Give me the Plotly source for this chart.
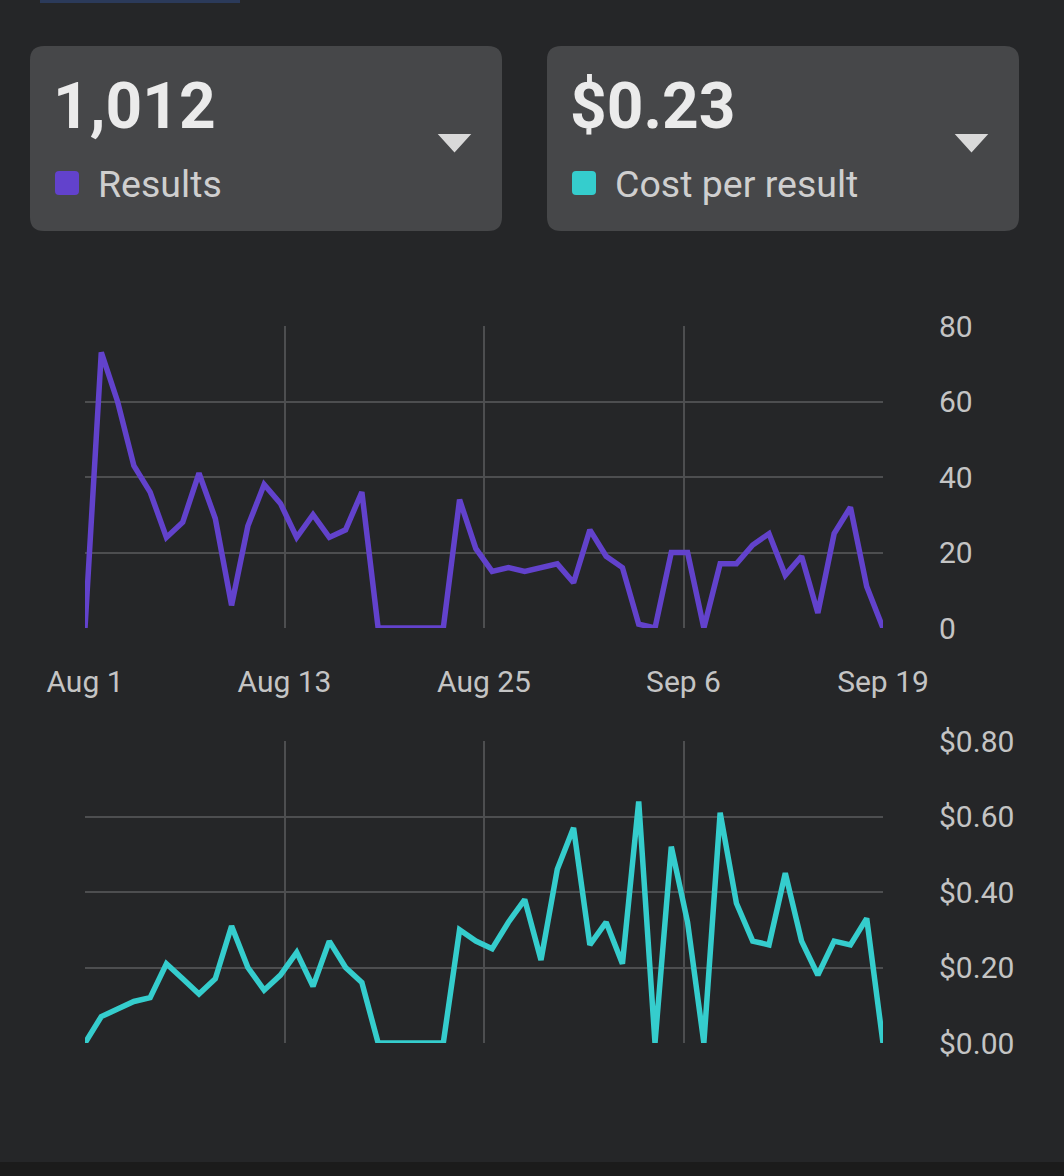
import plotly.graph_objects as go
import pandas as pd

W, H = 1064, 1176

# ---- data ----
start_date = "2023-08-01"
n_days = 50
results = [0, 73, 60, 43, 36, 24, 28, 41, 29, 6, 27, 38, 33, 24, 30, 24, 26, 36,
           0, 0, 0, 0, 0, 34, 21, 15, 16, 15, 16, 17, 12, 26, 19, 16, 1, 0,
           20, 20, 0, 17, 17, 22, 25, 14, 19, 4, 25, 32, 11, 0]
cost_per_result = [0, 0.07, 0.09, 0.11, 0.12, 0.21, 0.17, 0.13, 0.17, 0.31, 0.20, 0.14,
                   0.18, 0.24, 0.15, 0.27, 0.20, 0.16, 0, 0, 0, 0, 0, 0.30, 0.27, 0.25,
                   0.32, 0.38, 0.22, 0.46, 0.57, 0.26, 0.32, 0.21, 0.64, 0, 0.52, 0.32,
                   0, 0.61, 0.37, 0.27, 0.26, 0.45, 0.27, 0.18, 0.27, 0.26, 0.33, 0]
x_tick_vals = ["2023-08-01", "2023-08-13 06:00", "2023-08-25 12:00", "2023-09-06 18:00", "2023-09-19"]
x_tick_text = ["Aug 1", "Aug 13", "Aug 25", "Sep 6", "Sep 19"]
y1_ticks = [0, 20, 40, 60, 80]
y2_ticks = [0, 0.2, 0.4, 0.6, 0.8]
y2_tick_text = ["$0.00", "$0.20", "$0.40", "$0.60", "$0.80"]
total_results = "1,012"
avg_cost = "$0.23"

dates = pd.date_range(start_date, periods=n_days, freq="D")

BG = "#252628"
CARD = "#464749"
PURPLE = "#6242CC"
TEAL = "#35CDCD"
GRID = "#4d4e50"
TICK = "#c4c4c4"
FONT = "Roboto"


def px(x):
    return x / W


def py(y):
    return 1 - y / H


fig = go.Figure()
fig.add_trace(go.Scatter(x=dates, y=results, mode="lines", xaxis="x", yaxis="y",
                         line=dict(color=PURPLE, width=5.5), hoverinfo="skip"))
fig.add_trace(go.Scatter(x=dates, y=cost_per_result, mode="lines", xaxis="x2", yaxis="y2",
                         line=dict(color=TEAL, width=5.5), hoverinfo="skip"))

xdom = [px(85), px(883)]
xcommon = dict(type="date", range=[x_tick_vals[0], x_tick_vals[-1]], domain=xdom,
               tickmode="array", tickvals=x_tick_vals, ticktext=x_tick_text,
               showgrid=False, zeroline=False, showline=False, ticks="", automargin=False,
               minor=dict(tickvals=x_tick_vals[1:-1], showgrid=True, gridcolor=GRID, gridwidth=2),
               tickfont=dict(family=FONT, size=30, color=TICK))

ycommon = dict(side="right", showgrid=False, zeroline=False, showline=False, ticks="", automargin=False,
               tickfont=dict(family=FONT, size=30, color=TICK), ticklabelstandoff=55)

fig.update_layout(
    width=W, height=H, margin=dict(l=0, r=0, t=0, b=0, pad=0, autoexpand=False),
    paper_bgcolor=BG, plot_bgcolor=BG, showlegend=False,
    font=dict(family=FONT),
    xaxis=dict(**xcommon, anchor="y", ticklabelstandoff=33),
    xaxis2=dict(**xcommon, anchor="y2", showticklabels=False),
    yaxis=dict(**ycommon, anchor="x", domain=[py(628), py(326)], range=[0, 80],
               tickmode="array", tickvals=y1_ticks,
               minor=dict(tickvals=y1_ticks[1:-1], showgrid=True, gridcolor=GRID, gridwidth=2)),
    yaxis2=dict(**ycommon, anchor="x2", domain=[py(1043), py(741)], range=[0, 0.8],
                tickmode="array", tickvals=y2_ticks, ticktext=y2_tick_text,
                minor=dict(tickvals=y2_ticks[1:-1], showgrid=True, gridcolor=GRID, gridwidth=2)),
)


def rrect(x0, y0, x1, y1, r):
    rx, ry = r / W, r / H
    X0, X1 = px(x0), px(x1)
    Y0, Y1 = py(y0), py(y1)  # Y0 top (larger), Y1 bottom
    return (f"M {X0+rx},{Y0} L {X1-rx},{Y0} Q {X1},{Y0} {X1},{Y0-ry} "
            f"L {X1},{Y1+ry} Q {X1},{Y1} {X1-rx},{Y1} L {X0+rx},{Y1} "
            f"Q {X0},{Y1} {X0},{Y1+ry} L {X0},{Y0-ry} Q {X0},{Y0} {X0+rx},{Y0} Z")


shapes = []
# top partial element and bottom strip
shapes.append(dict(type="rect", xref="paper", yref="paper", x0=px(40), x1=px(240), y0=py(3), y1=py(0),
                   fillcolor="#2b3a5a", line=dict(width=0), layer="below"))
shapes.append(dict(type="rect", xref="paper", yref="paper", x0=0, x1=1, y0=0, y1=py(1162),
                   fillcolor="#1b1b1b", line=dict(width=0), layer="below"))
for (cx0, cx1, col) in [(30, 502, PURPLE), (547, 1019, TEAL)]:
    shapes.append(dict(type="path", xref="paper", yref="paper", path=rrect(cx0, 46, cx1, 231, 14),
                       fillcolor=CARD, line=dict(width=0), layer="below"))
    # legend swatch
    sx = cx0 + 25
    shapes.append(dict(type="path", xref="paper", yref="paper", path=rrect(sx, 171, sx + 24, 195, 4),
                       fillcolor=col, line=dict(width=0), layer="above"))
    # dropdown triangle
    tx0, tx1 = cx1 - 62, cx1 - 33
    tm = (tx0 + tx1) / 2
    shapes.append(dict(type="path", xref="paper", yref="paper",
                       path=f"M {px(tx0)},{py(135)} L {px(tx1)},{py(135)} L {px(tm)},{py(151)} Z",
                       fillcolor="#d9d9d9", line=dict(color="#d9d9d9", width=2), layer="above"))

annotations = []
for (cx0, big, label) in [(30, total_results, "Results"), (547, avg_cost, "Cost per result")]:
    annotations.append(dict(xref="paper", yref="paper", x=px(cx0 + 21), y=py(106),
                            xanchor="left", yanchor="middle", showarrow=False, text=f"<b>{big}</b>",
                            font=dict(family=FONT, size=64, color="#ebebeb")))
    annotations.append(dict(xref="paper", yref="paper", x=px(cx0 + 66), y=py(184),
                            xanchor="left", yanchor="middle", showarrow=False, text=label,
                            font=dict(family=FONT, size=37.5, color="#cfcfcf")))

fig.update_layout(shapes=shapes, annotations=annotations)
fig.write_html("out.html")
